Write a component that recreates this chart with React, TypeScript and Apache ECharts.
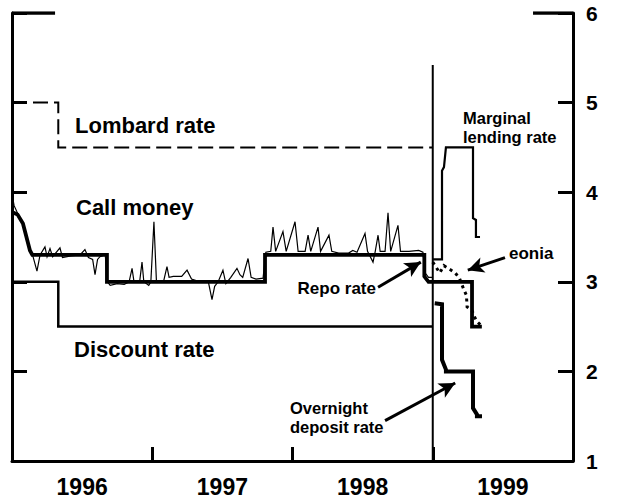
import React, { useEffect, useRef } from 'react';
import * as echarts from 'echarts';

const yearLabels = ['1996', '1997', '1998', '1999'];

const callMoney: number[][] = [
  [1996.0, 3.98], [1996.015, 3.85], [1996.036, 3.78], [1996.078, 3.65], [1996.128, 3.35],
  [1996.15, 3.28], [1996.178, 3.12], [1996.2, 3.3], [1996.235, 3.39], [1996.25, 3.28],
  [1996.271, 3.37], [1996.29, 3.28], [1996.342, 3.38], [1996.36, 3.27], [1996.42, 3.29],
  [1996.485, 3.3], [1996.52, 3.36], [1996.545, 3.27], [1996.575, 3.25], [1996.592, 3.08],
  [1996.61, 3.25], [1996.627, 3.28], [1996.665, 3.3], [1996.68, 3.0], [1996.7, 2.96],
  [1996.75, 2.98], [1996.8, 2.97], [1996.835, 3.0], [1996.856, 3.15], [1996.87, 3.0],
  [1996.91, 3.0], [1996.927, 3.22], [1996.94, 3.0], [1996.975, 2.96], [1996.99, 3.0],
  [1997.012, 3.67], [1997.03, 3.0], [1997.08, 3.0], [1997.105, 3.17], [1997.12, 3.05],
  [1997.15, 3.06], [1997.176, 3.06], [1997.21, 3.06], [1997.248, 3.13], [1997.28, 3.03],
  [1997.34, 3.0], [1997.4, 3.0], [1997.426, 2.8], [1997.445, 2.95], [1997.47, 3.0],
  [1997.504, 3.13], [1997.525, 2.98], [1997.56, 3.05], [1997.604, 3.15], [1997.625, 3.08],
  [1997.645, 3.05], [1997.683, 3.26], [1997.705, 3.05], [1997.74, 3.03], [1997.79, 3.04],
  [1997.81, 3.33], [1997.845, 3.34], [1997.861, 3.61], [1997.88, 3.34], [1997.932, 3.56],
  [1997.955, 3.34], [1998.018, 3.67], [1998.04, 3.34], [1998.09, 3.34], [1998.111, 3.52],
  [1998.13, 3.34], [1998.182, 3.61], [1998.2, 3.34], [1998.26, 3.52], [1998.28, 3.34],
  [1998.33, 3.32], [1998.374, 3.32], [1998.4, 3.32], [1998.43, 3.35], [1998.46, 3.33],
  [1998.517, 3.54], [1998.535, 3.34], [1998.574, 3.22], [1998.59, 3.34], [1998.61, 3.52],
  [1998.625, 3.34], [1998.66, 3.34], [1998.681, 3.77], [1998.7, 3.34], [1998.752, 3.63],
  [1998.77, 3.34], [1998.83, 3.34], [1998.9, 3.35], [1998.93, 3.33], [1998.945, 3.1],
  [1998.97, 3.05], [1999.0, 3.05],
];

const repoRate: number[][] = [
  [1996.0, 3.78], [1996.04, 3.75], [1996.078, 3.65], [1996.128, 3.35], [1996.145, 3.3],
  [1996.677, 3.3], [1996.677, 3.0], [1997.804, 3.0], [1997.804, 3.3], [1998.94, 3.3],
  [1998.94, 3.06], [1998.97, 3.0], [1999.28, 3.0], [1999.28, 2.5], [1999.35, 2.5],
];

const discountRate: number[][] = [
  [1996.0, 3.0], [1996.33, 3.0], [1996.33, 2.5], [1999.0, 2.5],
];

const lombardRate: number[][] = [
  [1996.0, 5.0], [1996.33, 5.0], [1996.33, 4.5], [1999.0, 4.5],
];

const marginalLending: number[][] = [
  [1999.0, 3.25], [1999.066, 3.25], [1999.066, 4.24], [1999.08, 4.28], [1999.094, 4.5],
  [1999.287, 4.5], [1999.287, 3.71], [1999.308, 3.69], [1999.308, 3.5], [1999.337, 3.5],
];

const overnightDeposit: number[][] = [
  [1999.014, 2.76], [1999.066, 2.75], [1999.066, 2.13], [1999.094, 2.02], [1999.094, 2.0],
  [1999.287, 2.0], [1999.287, 1.59], [1999.315, 1.52], [1999.315, 1.5], [1999.351, 1.5],
];

const eonia: number[][] = [
  [1999.0, 3.22], [1999.05, 3.1], [1999.08, 3.18], [1999.11, 3.15], [1999.16, 3.1],
  [1999.19, 3.04], [1999.22, 2.92], [1999.24, 2.85], [1999.245, 2.72], [1999.28, 2.68],
  [1999.3, 2.6], [1999.32, 2.55], [1999.34, 2.52],
];

const emuStart: number[][] = [[1999.0, 1.0], [1999.0, 5.42]];
const topTickLeft: number[][] = [[1996.0, 6], [1996.307, 6]];
const topTickRight: number[][] = [[1999.715, 6], [2000.0, 6]];

// annotation arrows: [from, to]
const repoArrow: number[][] = [[1998.61, 2.94], [1998.915, 3.22]];
const eoniaArrow: number[][] = [[1999.515, 3.27], [1999.25, 3.13]];
const depositArrow: number[][] = [[1998.66, 1.45], [1999.16, 1.87]];

const FONT = '"Liberation Sans", Arial, Helvetica, sans-serif';

function lineSeries(name: string, data: number[][], width: number, type: any = 'solid', extra: any = {}) {
  return {
    name,
    type: 'line',
    data,
    showSymbol: false,
    symbol: 'none',
    lineStyle: { color: '#000', width, type, cap: 'butt', join: 'miter' },
    silent: true,
    z: 3,
    ...extra,
  };
}

function arrowMark(a: number[][]) {
  return [
    { coord: a[0], symbol: 'none' },
    { coord: a[1], symbol: 'arrow', symbolSize: [12, 16] },
  ];
}

function label(text: string, x: number, y: number, size: number, align: string = 'left', lh?: number) {
  return {
    type: 'text',
    x,
    y,
    style: {
      text,
      fontSize: size,
      lineHeight: lh || size,
      fontWeight: 'bold',
      fontFamily: FONT,
      fill: '#000',
      verticalAlign: 'top',
      align,
    },
  };
}

export default function App() {
  const ref = useRef<HTMLDivElement>(null);
  useEffect(() => {
    if (!ref.current) return;
    const chart = echarts.init(ref.current, null, { renderer: 'svg' });
    const axisLineStyle = { color: '#000', width: 3 };
    chart.setOption({
      animation: false,
      backgroundColor: '#fff',
      grid: { left: 12, right: 44, top: 13, bottom: 40, containLabel: false },
      xAxis: [
        {
          type: 'value', min: 1996, max: 2000, interval: 1, position: 'bottom',
          axisLine: { show: true, lineStyle: axisLineStyle },
          axisTick: { show: true, inside: true, length: 14, lineStyle: { color: '#000', width: 3 } },
          axisLabel: { show: false }, splitLine: { show: false },
        },
        {
          type: 'category', data: yearLabels, position: 'bottom', boundaryGap: true,
          axisLine: { show: false }, axisTick: { show: false }, splitLine: { show: false },
          axisLabel: { color: '#000', fontSize: 23, fontWeight: 'bold', fontFamily: FONT, margin: 14 },
        },
      ],
      yAxis: [
        {
          type: 'value', min: 1, max: 6, interval: 1, position: 'right',
          axisLine: { show: true, lineStyle: axisLineStyle },
          axisTick: { show: true, inside: true, length: 15, lineStyle: { color: '#000', width: 3 } },
          axisLabel: { color: '#000', fontSize: 21, fontWeight: 'bold', fontFamily: FONT, margin: 13 },
          splitLine: { show: false },
        },
        {
          type: 'value', min: 1, max: 6, interval: 1, position: 'left',
          axisLine: { show: true, lineStyle: axisLineStyle },
          axisTick: { show: true, inside: true, length: 15, lineStyle: { color: '#000', width: 3 } },
          axisLabel: { show: false }, splitLine: { show: false },
        },
      ],
      series: [
        lineSeries('Lombard rate', lombardRate, 2, [15, 6]),
        lineSeries('Discount rate', discountRate, 2.5),
        lineSeries('Call money', callMoney, 1.2),
        lineSeries('Repo rate', repoRate, 3.8, 'solid', { z: 4 }),
        lineSeries('EMU start', emuStart, 2),
        lineSeries('Marginal lending rate', marginalLending, 2.2),
        lineSeries('Overnight deposit rate', overnightDeposit, 4, 'solid', { z: 4 }),
        lineSeries('eonia', eonia, 3, [3, 4]),
        lineSeries('top tick left', topTickLeft, 3.5),
        lineSeries('top tick right', topTickRight, 3.5),
        {
          type: 'line', data: [], silent: true,
          markLine: {
            silent: true, animation: false,
            label: { show: false },
            lineStyle: { color: '#000', width: 3, type: 'solid' },
            itemStyle: { color: '#000' },
            emphasis: { disabled: true },
            data: [arrowMark(repoArrow), arrowMark(eoniaArrow), arrowMark(depositArrow)],
          },
        },
      ],
      graphic: [
        label('Lombard rate', 75, 114, 22),
        label('Call money', 76, 196, 22),
        label('Discount rate', 74, 338, 22),
        label('Marginal\nlending rate', 463, 108, 16.5, 'left', 19),
        label('eonia', 509, 245, 17),
        label('Repo rate', 376, 280, 17, 'right'),
        label('Overnight\ndeposit rate', 290, 398, 16.5, 'left', 19),
      ],
    });
    return () => chart.dispose();
  }, []);
  return (
    <div
      ref={ref}
      style={{ position: 'absolute', left: 0, top: 0, width: 617, height: 501, background: '#fff' }}
    />
  );
}
